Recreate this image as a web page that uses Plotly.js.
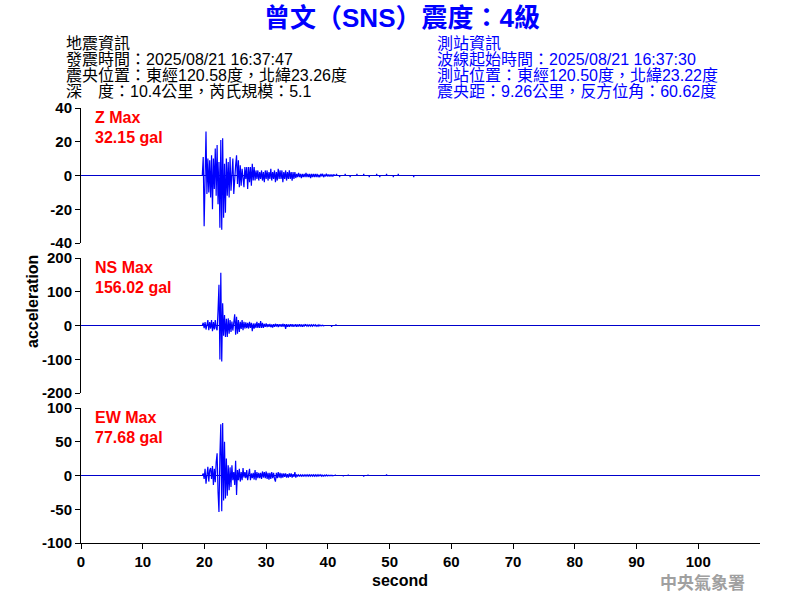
<!DOCTYPE html>
<html>
<head>
<meta charset="utf-8">
<script src="https://cdn.plot.ly/plotly-3.0.1.min.js"></script>
<style>html,body{margin:0;padding:0;background:#fff;}#chart{width:800px;height:600px;}</style>
</head>
<body>
<div id="chart"></div>
<script>
// ---- data ----
const stationTitle = "曾文（SNS）震度：4級";
const quakeInfo = ["地震資訊", "發震時間：2025/08/21 16:37:47", "震央位置：東經120.58度，北緯23.26度", "深　度：10.4公里，芮氏規模：5.1"];
const stationInfo = ["測站資訊", "波線起始時間：2025/08/21 16:37:30", "測站位置：東經120.50度，北緯23.22度", "震央距：9.26公里，反方位角：60.62度"];
const xTicks = [0, 10, 20, 30, 40, 50, 60, 70, 80, 90, 100];
const zTicks = [-40, -20, 0, 20, 40];
const nsTicks = [-200, -100, 0, 100, 200];
const ewTicks = [-100, -50, 0, 50, 100];
const maxLabels = ["Z Max", "NS Max", "EW Max"];
const maxValues = ["32.15 gal", "156.02 gal", "77.68 gal"];

const sampleStart = 19.8;   // seconds, first sample of the dense records
const sampleStep = 0.15;    // seconds between samples

const zSamples = [11,-30,16,26,-11,10,-10,9,-13,12,
  -20,10,-8,16,-12,18,-17,8,-31,21,
  -32.15,22,-25,7,-22,10,-12,8,-13,11,
  -9,4,10,-11,2,6,12,-5,9,-7,
  6,-6,4,-4,-7,5,-2,5,-8,5,
  -4,5,-6,7,-3,5,-3,3,-2,3,
  -3,2,-2,3,
  -3,2,-4,3,-2,3,-3,2,-2,4,-3,2,-2,3,-4,2,-3,4,-2,3,-2,3,-4,2,-2,3,-3,2,-2,3,-2,2,-3,2,-2,2,
  -1.5,1,-1,1.5,-1,1,-1.5,1,-1,1,-1,1.5,-1,1,-1,1,-1.5,1,-1,1,-1,1,-1,1,-1,0.5,-1,1,-0.5,1,-1,0.5,-0.5,1,-0.5,0.5,-0.5,0.5,-0.5,0.5,-0.5,0.5,0];
const zTailT = [41.4,41.9,42.8,43.6,44.7,45.8,46.7,47.9,48.4,49.5,50.6,51.4,53.9];
const zTailV = [1,-1,1,-1,1,1,-1,1,-1,1,-1,1,-1];

const nsSamples = [8,-8,10,-12,9,16,-14,10,-9,16,
  -17,10,-12,16,-8,-14,44,121,-101,156.02,
  -107,66,-30,31,-34,20,-34,21,-24,16,
  -19,12,-15,20,33,-27,26,-24,16,-19,
  11,-10,16,-14,11,-9,9,-8,8,-9,
  11,-7,8,-17,6,-9,6,-7,11,-7,
  7,-7,13,-7,8,-7,
  5,-4,6,-5,4,-4,5,-5,3,-6,
  4,-4,5,-3,4,-5,4,-3,4,-4,
  5,-3,4,-10,4,-4,3,-4,4,-3,
  4,-4,3,-3,4,-4,3,-3,4,-3,
  3,-4,3,-3,3,
  2,-2,2,-2,3,-2,2,-2,2,-1,2,-2,1,-2,2,-1,1,-1,1,-1];
const nsTailT = [40.6,41.3];
const nsTailV = [-4,3];

const ewSamples = [3,-5,10,-12,8,13,-9,8,11,-5,
  14,-14,10,-10,20,33,-24,-54,30,76,
  -53,77.68,-37,50,-34,25,-30,15,-22,12,
  -17,15,-7,5,-14,22,-29,8,-7,10,
  -9,5,-7,11,-3,5,-4,8,-7,5,
  10,-7,3,-4,4,-6,8,-7,5,-4,
  4,-4,4,-5,6,-3,
  5,-4,6,-5,4,-6,4,-5,5,-4,
  4,-5,-9,4,-4,5,-3,4,-4,3,
  -3,3,-2,3,-3,2,-3,3,-2,3,-3,2,-2,5,-3,
  1.5,-1,1,-1.5,1,-1,1,-1.5,1,-1,1.5,-1,1,-1,1,-1,1.5,-1,1,-1,
  1,-1,1,-1,1,-0.5,1,-1,0.5,-1,0.5,-0.5,1,-0.5,0.5,-0.5,0.5,-0.5,0.5,-0.5];
const ewTailT = [41.2,42.5,43.3,45.8,46.5,49.5];
const ewTailV = [1,-1,1,-1.5,1,1.5];

const recordEnd = 110;

// ---- build traces ----
function buildTrace(samples, tailT, tailV, yaxis) {
  const x = [], y = [];
  x.push(sampleStart - sampleStep); y.push(0);
  samples.forEach((v, i) => { x.push(sampleStart + i * sampleStep); y.push(v); });
  x.push(sampleStart + samples.length * sampleStep); y.push(0);
  x.push(null); y.push(null);
  tailT.forEach((t, i) => {
    x.push(t - 0.05, t, t + 0.05, null); y.push(0, tailV[i], 0, null);
  });
  return {x, y, type: 'scatter', mode: 'lines', yaxis: yaxis, xaxis: 'x', connectgaps: false,
    line: {color: '#0000ff', width: 1.2}, hoverinfo: 'skip', showlegend: false};
}

const data = [
  buildTrace(zSamples, zTailT, zTailV, 'y3'),
  buildTrace(nsSamples, nsTailT, nsTailV, 'y2'),
  buildTrace(ewSamples, ewTailT, ewTailV, 'y')
];

// pixel helpers for the plot area (81..760 x 108..543)
const L = 81, R = 760, T = 108, B = 543;
const px = v => (v - L) / (R - L);
const py = v => (B - v) / (B - T);

const tickFont = {family: 'Liberation Sans, Arial, sans-serif', size: 15, color: '#000', weight: 'bold'};
function yAxis(domain, range, ticks) {
  return {domain, range, tickmode: 'array', tickvals: ticks, ticktext: ticks.map(String),
    showline: true, linecolor: '#000', linewidth: 1, ticks: 'outside', ticklen: 5, tickcolor: '#000',
    showgrid: false, zeroline: true, zerolinecolor: '#0000cc', zerolinewidth: 1,
    tickfont: tickFont, fixedrange: true, anchor: 'x'};
}

const annotations = [];
const cjk = 'Liberation Sans, Arial, Noto Sans CJK TC, sans-serif';
const lineY = [43, 59, 75, 91];
quakeInfo.forEach((t, i) => annotations.push({text: t, xref: 'paper', yref: 'paper', x: px(64), y: py(lineY[i]),
  xanchor: 'left', yanchor: 'middle', showarrow: false, font: {family: cjk, size: 16, color: '#000'}}));
stationInfo.forEach((t, i) => annotations.push({text: t, xref: 'paper', yref: 'paper', x: px(435), y: py(lineY[i]),
  xanchor: 'left', yanchor: 'middle', showarrow: false, font: {family: cjk, size: 16, color: '#0000ff'}}));
const panelTop = [108, 258, 408];
maxLabels.forEach((t, i) => {
  annotations.push({text: t, xref: 'paper', yref: 'paper', x: px(93), y: py(panelTop[i] + 9),
    xanchor: 'left', yanchor: 'middle', showarrow: false,
    font: {family: 'Liberation Sans, Arial, sans-serif', size: 16, color: '#ff0000', weight: 'bold'}});
  annotations.push({text: maxValues[i], xref: 'paper', yref: 'paper', x: px(93), y: py(panelTop[i] + 29),
    xanchor: 'left', yanchor: 'middle', showarrow: false,
    font: {family: 'Liberation Sans, Arial, sans-serif', size: 16, color: '#ff0000', weight: 'bold'}});
});
annotations.push({text: 'acceleration', xref: 'paper', yref: 'paper', x: px(32), y: py(302), textangle: -90,
  xanchor: 'center', yanchor: 'middle', showarrow: false,
  font: {family: 'Liberation Sans, Arial, sans-serif', size: 16, color: '#000', weight: 'bold'}});
annotations.push({text: 'second', xref: 'paper', yref: 'paper', x: px(400), y: py(580),
  xanchor: 'center', yanchor: 'middle', showarrow: false,
  font: {family: 'Liberation Sans, Arial, sans-serif', size: 16, color: '#000', weight: 'bold'}});
annotations.push({text: '中央氣象署', xref: 'paper', yref: 'paper', x: px(702), y: py(581),
  xanchor: 'center', yanchor: 'middle', showarrow: false,
  font: {family: 'Noto Sans CJK TC, sans-serif', size: 17, color: '#a0a0a0', weight: 'bold'}});

const layout = {
  width: 800, height: 600,
  paper_bgcolor: '#fff', plot_bgcolor: '#fff',
  margin: {l: L, r: 800 - R, t: T, b: 600 - B, pad: 0},
  title: {text: stationTitle, xref: 'container', yref: 'container', x: 402 / 800, y: 1 - 18 / 600,
    xanchor: 'center', yanchor: 'middle',
    font: {family: cjk, size: 26, color: '#0000ff', weight: 'bold'}},
  xaxis: {range: [0, recordEnd], tickmode: 'array', tickvals: xTicks, ticktext: xTicks.map(String),
    showline: true, linecolor: '#000', linewidth: 1, ticks: 'outside', ticklen: 5, tickcolor: '#000',
    showgrid: false, zeroline: false, tickfont: tickFont, anchor: 'y', fixedrange: true},
  yaxis: yAxis([0, 135 / 435], [-100, 100], ewTicks),
  yaxis2: yAxis([150 / 435, 285 / 435], [-200, 200], nsTicks),
  yaxis3: yAxis([300 / 435, 1], [-40, 40], zTicks),
  annotations: annotations,
  hovermode: false,
  showlegend: false
};

Plotly.newPlot('chart', data, layout, {displayModeBar: false, staticPlot: true});
</script>
</body>
</html>
